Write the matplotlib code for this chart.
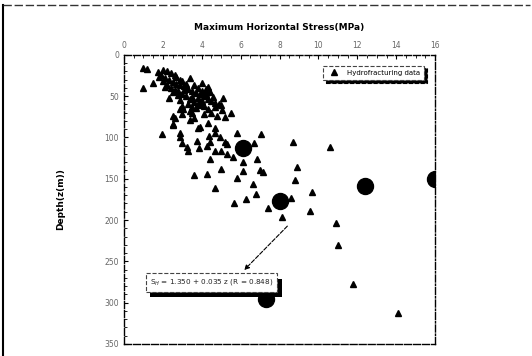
import matplotlib
matplotlib.use("Agg")
import matplotlib.pyplot as plt
import matplotlib.patheffects as pe
from matplotlib.lines import Line2D
from matplotlib.ticker import MultipleLocator

# Hydrofracturing data (stress MPa, depth m)
hf_stress = [1.0, 1.2, 1.5, 1.0, 1.75, 2.0, 2.2, 2.4, 2.6, 2.9, 3.4, 2.1, 2.5, 2.8, 3.1, 2.3, 3.5, 3.8,
             4.0, 4.3, 4.4, 5.1, 4.7, 5.05, 5.2, 5.5, 2.6, 2.5, 3.6, 3.9, 4.7, 2.9, 3.05, 3.9, 4.3,
             1.9, 2.1, 2.3, 2.5, 2.7, 2.9, 3.1, 3.3, 3.5, 3.7, 3.9, 4.1, 4.3, 4.5, 4.7, 4.9,
             2.0, 2.2, 2.4, 2.6, 2.8, 3.0, 3.2, 3.4, 3.6, 3.8, 4.1, 1.8, 2.7, 3.0, 3.2, 3.6, 4.0,
             4.2, 4.6, 3.3, 3.7, 4.0, 3.5, 4.1, 4.5, 5.0, 4.8, 3.0, 2.9,
             4.2, 2.5, 3.4, 3.5, 3.0, 3.9, 3.8,
             1.95, 2.5, 3.4, 2.9, 2.9, 3.0, 3.25, 3.3, 3.75, 3.8, 3.85, 4.3, 4.35, 4.4, 4.25,
             4.7, 4.95, 5.2, 5.3, 4.7, 5.0, 5.3, 5.6, 5.8, 4.4, 6.1, 6.7, 7.05, 6.85, 5.0, 6.1,
             5.8, 7.0, 7.15, 3.6, 4.25, 4.7, 6.65, 6.8, 6.3, 5.65, 7.4, 8.15, 8.7, 8.9, 8.8,
             9.65, 9.55, 8.6, 10.6, 10.9, 11.0, 11.8, 14.1]
hf_depth = [16, 17, 34, 40, 21, 18, 20, 22, 24, 30, 28, 39, 45, 49, 43, 52, 51, 40,
            34, 39, 45, 52, 63, 67, 75, 71, 77, 85, 77, 87, 88, 55, 65, 61, 65,
            25, 28, 30, 33, 35, 37, 38, 41, 44, 46, 48, 50, 53, 56, 58, 60,
            32, 36, 40, 42, 44, 47, 50, 54, 57, 59, 62, 27, 27, 32, 35, 37, 44,
            47, 51, 60, 64, 56, 70, 72, 70, 61, 74, 72, 66,
            41, 74, 68, 63, 62, 57, 52,
            96, 84, 79, 95, 100, 107, 111, 116, 104, 89, 113, 83, 98, 106, 110,
            95, 100, 105, 108, 117, 117, 120, 124, 95, 126, 130, 107, 96, 126, 138, 141,
            149, 140, 142, 146, 144, 161, 156, 168, 174, 179, 185, 196, 105, 136, 152,
            166, 189, 173, 112, 204, 230, 277, 312]

# Large circles
big_stress = [6.1, 8.0, 12.4, 16.0, 7.3]
big_depth = [113, 177, 159, 150, 296]

x_ticks = [0, 2, 4, 6, 8, 10, 12, 14, 16]
y_ticks = [0, 50, 100, 150, 200, 250, 300, 350]

fig = plt.figure(figsize=(5.32, 3.56), dpi=100)
ax = fig.add_axes([0.233, 0.034, 0.585, 0.812])

ax.plot(hf_stress, hf_depth, linestyle='none', marker='^', color='black',
        markersize=3.9, label='Hydrofracturing data')
ax.plot(big_stress, big_depth, linestyle='none', marker='o', color='black',
        markersize=11.5)

ax.set_xlim(0, 16)
ax.set_ylim(350, 0)
ax.set_xticks(x_ticks)
ax.set_yticks(y_ticks)
ax.xaxis.set_minor_locator(MultipleLocator(0.5))
ax.yaxis.set_minor_locator(MultipleLocator(10))
ax.xaxis.tick_top()
ax.xaxis.set_label_position('top')
ax.tick_params(axis='both', which='major', labelsize=5.5, labelcolor='#666666',
               direction='in', length=3, width=0.8)
ax.tick_params(axis='both', which='minor', direction='in', length=2, width=0.6)
ax.tick_params(axis='x', which='both', top=True, bottom=False)
ax.tick_params(axis='y', which='both', left=True, right=False)

for s in ax.spines.values():
    s.set_linestyle((0, (5, 1.5)))
    s.set_linewidth(1.0)
ax.spines['right'].set_linestyle((0, (5, 1.5, 1, 1.5)))

ax.set_xlabel('Maximum Horizontal Stress(MPa)', fontsize=6.5, fontweight='bold', labelpad=8)
ax.set_ylabel('Depth(z(m))', fontsize=6.5, fontweight='bold', labelpad=28)

leg = ax.legend(loc='upper right', bbox_to_anchor=(0.975, 0.975), fontsize=5,
                frameon=True, fancybox=False, shadow={'color': 'black', 'alpha': 1},
                handletextpad=0.8, borderpad=0.6, markerscale=1.0)
leg.get_frame().set_edgecolor('#444444')
leg.get_frame().set_linestyle('--')
leg.get_frame().set_linewidth(0.8)

t = ax.text(4.5, 275.5, r'S$_{H}$ = 1.350 + 0.035 z (R = 0.848)', fontsize=5.2,
            ha='center', va='center', color='#222222',
            bbox=dict(boxstyle='square,pad=0.6', fc='white', ec='#444444', lw=0.8, ls='--'))
t.get_bbox_patch().set_path_effects([
    pe.SimplePatchShadow(offset=(3.5, -4), shadow_rgbFace='black', alpha=1.0),
    pe.Normal()])

ax.annotate('', xy=(6.08, 263), xytext=(8.5, 205),
            arrowprops=dict(arrowstyle='-|>', color='black', lw=0.8, ls='--',
                            mutation_scale=7))

# outer frame lines
fig.add_artist(Line2D([0.006, 0.006], [0.0, 0.986], color='black', lw=1.5,
                      transform=fig.transFigure))
fig.add_artist(Line2D([0.006, 0.996], [0.986, 0.986], color='#333333', lw=1.0,
                      ls=(0, (6, 2)), transform=fig.transFigure))

fig.savefig('out.png', dpi=100)
